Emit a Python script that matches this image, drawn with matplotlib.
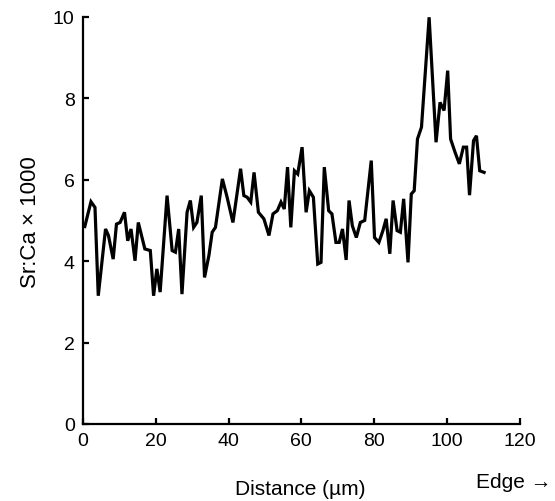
import matplotlib
matplotlib.use('Agg')
import matplotlib.pyplot as plt

plt.rcParams['font.family'] = ['Liberation Sans', 'DejaVu Sans']

# distance from core (um) and Sr:Ca x 1000
dist = [0.5, 2.2, 3.3, 4.2, 6.2, 7.0, 8.3, 9.2, 10.2, 11.4, 12.3, 13.2, 14.3, 15.2,
        17.0, 18.5, 19.4, 20.3, 21.2, 23.1, 24.5, 25.4, 26.3, 27.2, 28.6, 29.5,
        30.4, 31.3, 32.5, 33.4, 34.6, 35.5, 36.4, 38.3, 39.6, 41.2, 43.3, 44.2,
        45.1, 46.1, 47.0, 48.2, 49.7, 51.1, 52.2, 53.4, 54.4, 55.3, 56.2, 57.1,
        58.1, 59.0, 60.2, 61.3, 62.2, 63.3, 64.5, 65.4, 66.3, 67.5, 68.4, 69.5,
        70.4, 71.3, 72.3, 73.1, 74.0, 75.1, 76.2, 77.4, 79.2, 80.1, 81.3, 82.4,
        83.3, 84.3, 85.2, 86.3, 87.2, 88.1, 89.3, 90.2, 91.0, 91.9, 93.0, 95.1,
        97.0, 98.1, 99.2, 100.2, 101.0, 102.2, 103.4, 104.5, 105.4, 106.2, 107.3,
        108.1, 109.0, 110.2]
srca = [4.85, 5.46, 5.32, 3.15, 4.79, 4.63, 4.05, 4.91, 4.95, 5.2, 4.5, 4.79, 4.01, 4.95,
        4.3, 4.26, 3.15, 3.81, 3.24, 5.61, 4.26, 4.22, 4.79, 3.19, 5.2, 5.49,
        4.83, 4.95, 5.61, 3.6, 4.14, 4.71, 4.83, 6.02, 5.57, 4.95, 6.27, 5.61,
        5.57, 5.45, 6.18, 5.2, 5.04, 4.63, 5.16, 5.24, 5.45, 5.28, 6.31, 4.83,
        6.22, 6.14, 6.8, 5.2, 5.73, 5.57, 3.93, 3.97, 6.31, 5.24, 5.16, 4.46,
        4.46, 4.79, 4.03, 5.49, 4.87, 4.58, 4.95, 5.0, 6.47, 4.58, 4.46, 4.75,
        5.04, 4.18, 5.49, 4.75, 4.71, 5.53, 3.97, 5.65, 5.73, 7.0, 7.29, 9.99,
        6.92, 7.9, 7.7, 8.68, 7.0, 6.68, 6.39, 6.8, 6.8, 5.62, 6.96,
        7.08, 6.22, 6.18]

xticks = [0, 20, 40, 60, 80, 100, 120]
yticks = [0, 2, 4, 6, 8, 10]

fig = plt.figure(figsize=(5.55, 5.02), dpi=100)
ax = fig.add_axes([0.1495, 0.1534, 0.787, 0.811])
ax.plot(dist, srca, color='black', lw=2.3, solid_joinstyle='miter')

ax.set_xlim(0, 120)
ax.set_ylim(0, 10)
ax.set_xticks(xticks)
ax.set_yticks(yticks)
ax.spines['top'].set_visible(False)
ax.spines['right'].set_visible(False)
for s in ['left', 'bottom']:
    ax.spines[s].set_linewidth(1.6)
ax.tick_params(direction='in', length=4, width=1.6, labelsize=14, pad=6)

# axis titles placed in figure pixels to match the original layout
fig.text(300 / 555, 1 - 490 / 502, 'Distance (\u00b5m)', fontsize=15, ha='center', va='center')
fig.text(30 / 555, 1 - 222 / 502, 'Sr:Ca \u00d7 1000', fontsize=16, rotation=90,
         ha='center', va='center')
fig.text(0.993, 1 - 483 / 502, 'Edge \u2192', fontsize=15, ha='right', va='center')

fig.savefig('out.png', dpi=100)
